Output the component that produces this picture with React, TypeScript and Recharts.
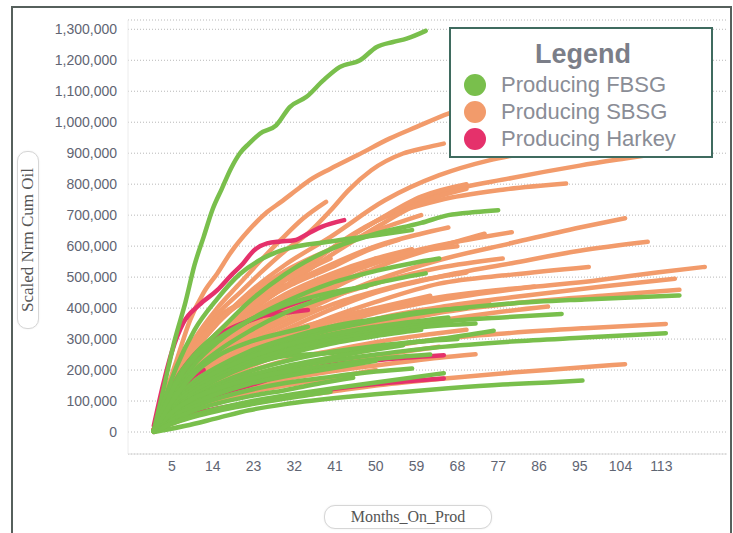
import React from 'react';
import { LineChart, Line, XAxis, YAxis, CartesianGrid } from 'recharts';

type Pt = [number, number];

// Month ticks on the x axis
const xTicks = [5, 14, 23, 32, 41, 50, 59, 68, 77, 86, 95, 104, 113];
// Cumulative oil ticks on the y axis
const yTicks = [0, 100000, 200000, 300000, 400000, 500000, 600000, 700000, 800000, 900000, 1000000, 1100000, 1200000, 1300000];

// Each well: [month on production, scaled normalized cumulative oil in thousands]
const sbsgWells: Pt[][] = [
  [[1,10],[3,100],[6,230],[9,361],[12,450],[15,512],[18,580],[22,652],[26,710],[29,742],[32.5,781],[35.4,813],[40,850],[46,894],[53,947],[59,985],[66,1028],[72,1055],[80,1090],[90,1130]],
  [[1,8],[3,70],[6,170],[10,280],[15,380],[20,450],[25,520],[30,585],[35,641],[40,715],[44,781],[49,845],[56,899],[61,918],[65,931]],
  [[1,8],[3,80],[6,190],[10,300],[15,400],[20,480],[25,560],[29,620],[34,690],[39,743]],
  [[1,8],[3,70],[6,160],[10,260],[15,350],[22,450],[30,540],[40,630],[52,748],[64,829],[75,877],[85,905]],
  [[1,8],[3,65],[6,150],[10,240],[15,320],[22,410],[30,500],[40,590],[50,680],[64,770],[80,820],[95,860],[105,883],[115,905]],
  [[1,6],[3,60],[6,140],[10,225],[15,300],[22,390],[30,470],[40,590],[50,680],[64,748],[78,782],[92,802]],
  [[1,6],[3,60],[6,140],[10,230],[15,310],[22,400],[30,490],[40,590],[50,680],[60,760],[70,800]],
  [[1,6],[3,55],[6,130],[10,215],[15,295],[22,385],[30,470],[40,570],[50,660],[60,740],[70,785]],
  [[1,5],[3,50],[6,115],[10,185],[15,250],[22,320],[30,390],[40,460],[50,530],[64,598],[74,640]],
  [[1,5],[3,50],[6,110],[10,175],[15,235],[22,300],[30,360],[40,430],[50,490],[64,555],[80,610],[95,660],[105,690]],
  [[1,5],[3,45],[6,100],[10,160],[15,215],[22,275],[30,330],[40,395],[50,450],[64,501],[80,545],[95,585],[110,614]],
  [[1,5],[3,45],[6,95],[10,150],[15,200],[22,255],[30,310],[40,370],[50,420],[64,479],[80,508],[97,533]],
  [[1,4],[3,40],[6,90],[10,140],[15,185],[22,235],[30,285],[40,340],[50,385],[64,426],[80,460],[99,490],[112,515],[122.6,533]],
  [[1,4],[3,38],[6,85],[10,130],[15,175],[22,225],[30,270],[40,320],[50,365],[64,403],[80,435],[100,470],[116,495]],
  [[1,4],[3,36],[6,80],[10,125],[15,165],[22,210],[30,255],[40,300],[50,340],[64,385],[80,415],[100,440],[117,459]],
  [[1,3],[3,30],[6,65],[10,100],[15,135],[22,170],[30,205],[40,240],[50,268],[64,300],[80,320],[96,335],[114,349]],
  [[1,3],[3,28],[6,60],[10,90],[15,115],[22,145],[30,170],[40,195],[50,215],[64,240],[72,251]],
  [[1,1],[3,15],[6,33],[10,52],[15,70],[22,90],[30,110],[40,130],[50,150],[64,171],[80,192],[95,208],[105,219]],
  [[1,6],[3,70],[6,160],[10,260],[15,350],[22,440],[30,520],[40,590],[50,650],[60,700]],
  [[1,6],[3,60],[6,145],[10,235],[15,315],[22,395],[30,465],[40,530],[48,585],[55,620]],
  [[1,5],[3,55],[6,130],[10,210],[15,285],[22,360],[30,430],[40,500],[50,550],[60,585],[68,600]],
  [[1,5],[3,55],[6,125],[10,200],[15,270],[22,340],[30,410],[40,480],[50,560]],
  [[1,5],[3,50],[6,120],[10,190],[15,255],[22,320],[30,390],[38,460],[45,520]],
  [[1,5],[3,50],[6,115],[10,180],[15,245],[22,310],[30,375],[40,435],[50,480],[64,530],[78,560]],
  [[1,4],[3,40],[6,95],[10,150],[15,200],[22,255],[30,305],[40,355],[50,395],[64,435],[75,455],[85,470]],
  [[1,4],[3,40],[6,90],[10,140],[15,185],[22,235],[30,280],[40,320],[50,355],[64,395],[75,420]],
  [[1,4],[3,45],[6,100],[10,160],[15,215],[22,270],[30,320],[40,365],[50,400],[62,440]],
  [[1,8],[3,90],[6,200],[10,300],[15,370],[22,430],[28,465],[32,480]],
  [[1,8],[3,80],[6,180],[10,280],[15,360],[22,430],[30,490],[40,560]],
  [[1,5],[3,60],[6,130],[10,200],[15,260],[22,310],[30,360],[38,400]],
  [[1,4],[3,40],[6,90],[10,140],[15,180],[22,225],[30,265],[40,305],[48,335],[55,360]],
  [[1,3],[3,30],[6,68],[10,100],[15,130],[22,165],[30,195],[40,220],[50,245],[64,275]],
  [[1,2],[3,22],[6,50],[10,78],[15,100],[22,128],[30,150],[40,175],[50,200]],
  [[1,3],[3,35],[6,78],[10,118],[15,155],[22,195],[30,230],[40,262],[50,290],[60,312],[70,330]],
  [[1,4],[3,38],[6,85],[10,128],[15,170],[22,215],[30,255],[40,295],[50,325],[64,360],[76,385],[88,405]],
  [[1,6],[3,65],[6,150],[10,240],[15,320],[22,400],[30,470],[40,540],[50,600],[60,640],[66,660]],
  [[1,6],[3,60],[6,140],[10,225],[15,300],[22,375],[30,445],[40,510],[50,560],[58,590]],
  [[1,5],[3,55],[6,125],[10,195],[15,260],[22,330],[30,400],[40,470],[48,520]],
  [[1,7],[3,75],[6,170],[10,270],[15,355],[22,440],[30,510],[36,550]],
  [[1,5],[3,55],[6,130],[10,205],[15,275],[22,345],[30,415],[40,490],[50,545],[60,590],[70,620],[80,645]],
  [[1,4],[3,45],[6,105],[10,165],[15,220],[22,285],[30,345],[40,410],[50,455],[60,490],[70,515]],
];

const harkeyWells: Pt[][] = [
  [[1,20],[3,150],[5,260],[7.5,352],[11,410],[15,458],[18,505],[20.7,544],[23,585],[26,609],[29,615],[32,619],[35,640],[38,662],[43,684]],
  [[1,10],[3,80],[6,170],[10,250],[14,300],[18,335],[25,375],[30,405],[35.4,431]],
  [[1,5],[3,50],[6,130],[10,230],[15,307],[20,345],[24,372],[30,385],[35,394]],
  [[1,0],[3,15],[6,39],[10,60],[15,76],[20,88],[25,98],[32,115],[39,135],[50,155],[65,173]],
  [[1,5],[4,40],[8,80],[15,120],[22,150],[30,185],[38,211],[50,232],[65,248]],
  [[1,5],[3,50],[6,110],[9,170],[12,200]],
];

const fbsgWells: Pt[][] = [
  [[1,5],[3,130],[5.5,290],[8,420],[10,540],[12,630],[14,720],[16,785],[18,850],[20,900],[22,931],[24.4,963],[28,990],[31,1049],[34.7,1082],[38.4,1135],[42,1178],[46.5,1200],[50.2,1243],[53.8,1259],[56.8,1270],[61,1295]],
  [[1,5],[3,70],[6,170],[10,250],[15,320],[22,420],[30,510],[40,590],[50,640],[60,675],[66,700],[72,710],[77,716]],
  [[1,5],[3,90],[6,210],[10,330],[15,430],[20,510],[25,560],[30,590],[40,615],[50,635],[58,652]],
  [[1,5],[3,60],[6,140],[10,220],[15,290],[22,360],[30,420],[40,480],[50,520],[58,545],[64,560]],
  [[1,5],[3,55],[6,130],[10,200],[15,260],[22,325],[30,385],[40,440],[50,480],[61,512]],
  [[1,5],[3,50],[6,110],[10,160],[15,200],[22,250],[30,290],[40,330],[50,360],[64,392],[80,415],[96,428],[110,437],[117,441]],
  [[1,5],[3,45],[6,100],[10,150],[15,190],[22,235],[30,270],[40,305],[50,330],[64,355],[78,370],[91,381]],
  [[1,4],[3,40],[6,90],[10,135],[15,175],[22,215],[30,245],[40,255],[50,275],[64,300],[76,327]],
  [[1,3],[3,35],[6,75],[10,110],[15,140],[22,175],[30,205],[40,230],[50,250],[64,274],[80,292],[96,305],[114,319]],
  [[1,0],[4,8],[8,20],[15,45],[22,70],[30,90],[44,114],[55,128],[66,141],[78,153],[88,160],[95.6,166]],
  [[1,5],[3,50],[6,110],[10,165],[15,210],[22,260],[30,300],[40,340],[50,365],[60,388],[70,400]],
  [[1,4],[3,45],[6,100],[10,150],[15,195],[22,240],[30,280],[40,315],[50,340],[66,370]],
  [[1,4],[3,40],[6,95],[10,140],[15,180],[22,225],[30,262],[40,295],[50,318],[60,338],[72,350]],
  [[1,3],[3,38],[6,85],[10,130],[15,170],[22,215],[30,250],[40,285],[50,310],[60,330]],
  [[1,3],[3,35],[6,80],[10,120],[15,155],[22,195],[30,228],[40,258],[50,278],[60,292],[68,300]],
  [[1,3],[3,32],[6,75],[10,112],[15,145],[22,182],[30,212],[40,240],[48,262],[56,280]],
  [[1,2],[3,30],[6,65],[10,100],[15,130],[22,165],[30,192],[40,215],[50,235],[62,250]],
  [[1,2],[3,28],[6,60],[10,92],[15,122],[22,155],[30,180],[40,205],[50,230]],
  [[1,2],[3,25],[6,55],[10,82],[15,108],[22,135],[30,158],[40,178],[50,195],[58,205]],
  [[1,2],[3,20],[6,45],[10,70],[15,92],[22,115],[30,135],[38,158],[45,175]],
  [[1,1],[3,15],[6,35],[10,55],[15,75],[22,98],[30,118],[40,140],[50,160],[65,190]],
  [[1,1],[3,15],[6,32],[10,50],[15,68],[22,88],[30,108],[40,130]],
  [[1,3],[3,35],[6,75],[10,110],[15,140],[22,170],[28,190],[33,200]],
  [[1,5],[3,70],[6,160],[10,240],[15,300],[22,360],[30,410],[40,450],[48,470]],
  [[1,3],[3,50],[6,120],[10,190],[15,245],[22,290],[30,322],[35,340]],
];

const GREEN = '#79bf4c';
const ORANGE = '#f29b6b';
const PINK = '#e5316b';

const legendItems = [
  { label: 'Producing FBSG', color: GREEN },
  { label: 'Producing SBSG', color: ORANGE },
  { label: 'Producing Harkey', color: PINK },
];

const toRows = (w: Pt[]) => w.map(([m, v]) => ({ m, v: v * 1000 }));
const fmt = (n: number) => n.toLocaleString('en-US');

const tickStyle = { fontFamily: '"Liberation Sans", Arial, sans-serif', fontSize: 14, fill: '#5f6573' };

function renderWells(wells: Pt[][], color: string, prefix: string) {
  return wells.map((w, i) => (
    <Line
      key={`${prefix}${i}`}
      name={`${prefix}${i}`}
      data={toRows(w)}
      dataKey="v"
      type="monotone"
      stroke={color}
      strokeWidth={4.5}
      strokeLinecap="round"
      strokeLinejoin="round"
      dot={false}
      activeDot={false}
      isAnimationActive={false}
    />
  ));
}

export default function App() {
  return (
    <div style={{ position: 'absolute', left: 0, top: 0, width: 733, height: 533, background: '#fff', overflow: 'hidden' }}>
      <div style={{ position: 'absolute', left: 11, top: 6, width: 717, height: 540, border: '2px solid #56605c' }} />
      <div style={{ position: 'absolute', left: 0, top: 0 }}>
        <LineChart width={733} height={533} margin={{ top: 20, right: 6, bottom: 49, left: 0 }}>
          <CartesianGrid vertical={false} stroke="#b8b8b8" strokeDasharray="1 2" />
          <XAxis
            type="number"
            dataKey="m"
            domain={[-4.7, 127.5]}
            ticks={xTicks}
            allowDataOverflow
            height={30}
            tickLine={false}
            tickSize={0}
            tickMargin={7}
            axisLine={{ stroke: '#dcdcdc' }}
            tick={tickStyle}
            interval={0}
          />
          <YAxis
            type="number"
            domain={[-71000, 1330000]}
            ticks={yTicks}
            allowDataOverflow
            width={128}
            tickLine={false}
            tickSize={6}
            tickMargin={5}
            axisLine={{ stroke: '#ececec' }}
            tick={tickStyle}
            tickFormatter={fmt}
            interval={0}
          />
          {renderWells(sbsgWells, ORANGE, 's')}
          {renderWells(harkeyWells, PINK, 'h')}
          {renderWells(fbsgWells, GREEN, 'f')}
        </LineChart>
      </div>
      {/* y axis title */}
      <div
        style={{
          position: 'absolute', left: 28, top: 240, width: 176, height: 20,
          transform: 'translate(-50%, -50%) rotate(-90deg)',
          border: '1px solid #d6d6d6', borderRadius: 10, background: '#fff',
          boxShadow: '0 0 2px rgba(0,0,0,0.08)',
          fontFamily: '"Liberation Serif", "Times New Roman", serif', fontSize: 17, color: '#555',
          textAlign: 'center', lineHeight: '20px', whiteSpace: 'nowrap',
        }}
      >
        Scaled Nrm Cum Oil
      </div>
      {/* x axis title */}
      <div
        style={{
          position: 'absolute', left: 324, top: 505, width: 166, height: 22,
          border: '1px solid #d6d6d6', borderRadius: 11, background: '#fff',
          boxShadow: '0 0 2px rgba(0,0,0,0.08)',
          fontFamily: '"Liberation Serif", "Times New Roman", serif', fontSize: 16, color: '#555',
          textAlign: 'center', lineHeight: '22px', whiteSpace: 'nowrap',
        }}
      >
        Months_On_Prod
      </div>
      {/* legend */}
      <div
        style={{
          position: 'absolute', left: 449, top: 27, width: 260, height: 127,
          border: '2px solid #3f6b5f', background: '#fff',
          fontFamily: '"Liberation Sans", Arial, sans-serif',
        }}
      >
        <div style={{ position: 'absolute', left: 0, top: 9, width: 264, textAlign: 'center', fontSize: 27, fontWeight: 'bold', color: '#7b7e88', lineHeight: '32px' }}>
          Legend
        </div>
        {legendItems.map((it, i) => (
          <div key={it.label} style={{ position: 'absolute', left: 13, top: 43 + i * 27, height: 26, display: 'flex', alignItems: 'center' }}>
            <span style={{ display: 'inline-block', width: 22, height: 22, borderRadius: 11, background: it.color }} />
            <span style={{ marginLeft: 15, fontSize: 22, color: '#8a8d96', lineHeight: '26px', whiteSpace: 'nowrap' }}>{it.label}</span>
          </div>
        ))}
      </div>
    </div>
  );
}
